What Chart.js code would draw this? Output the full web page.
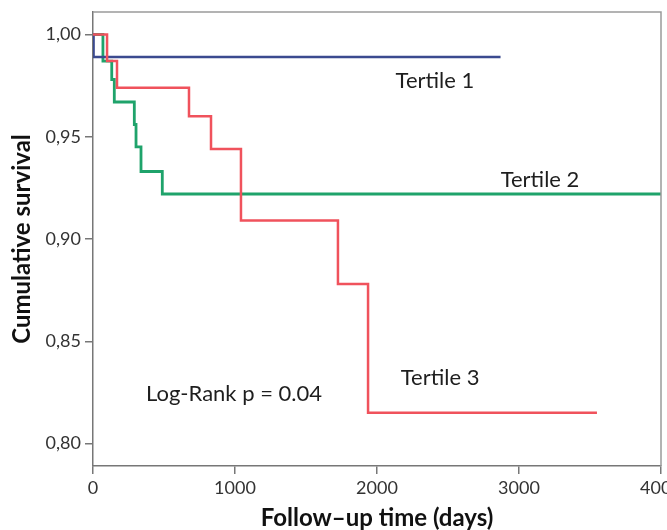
<!DOCTYPE html>
<html>
<head>
<meta charset="utf-8">
<script src="https://cdn.jsdelivr.net/npm/chart.js@4"></script>
<style>
    html, body { margin: 0; padding: 0; background: #fff; overflow: hidden; }
    #wrap { width: 667px; height: 530px; }
</style>
</head>
<body>
<div id="wrap"><canvas id="km" width="667" height="530"></canvas></div>
<script>
// Kaplan-Meier curves by tertile
const xTicks = [0, 1000, 2000, 3000, 4000];
const yTicks = [0.80, 0.85, 0.90, 0.95, 1.00];

const tertile1Days = [0, 4, 2870];
const tertile1Surv = [1.000, 0.989, 0.989];

const tertile2Days = [0, 70, 132, 150, 291, 303, 338, 488, 4000];
const tertile2Surv = [1.000, 0.987, 0.978, 0.967, 0.956, 0.945, 0.933, 0.922, 0.922];

const tertile3Days = [0, 99, 169, 676, 831, 1042, 1725, 1937, 3549];
const tertile3Surv = [1.000, 0.987, 0.974, 0.960, 0.944, 0.909, 0.878, 0.815, 0.815];

const curveLabels = [
    { text: 'Tertile 1', x: 2408, y: 0.9775 },
    { text: 'Tertile 2', x: 3148, y: 0.9291 },
    { text: 'Tertile 3', x: 2444, y: 0.8323 },
    { text: 'Log-Rank p = 0.04', x: 993, y: 0.8244 }
];

const FONT = 'Lato, "Open Sans", sans-serif';

const toPoints = (days, surv) => days.map((d, i) => ({ x: d, y: surv[i] }));

// text annotations + top/right frame
const extrasPlugin = {
    id: 'extras',
    afterDatasetsDraw(chart) {
        const { ctx, chartArea, scales } = chart;
        ctx.save();
        ctx.strokeStyle = '#9a9a9a';
        ctx.lineWidth = 1.5;
        ctx.beginPath();
        ctx.moveTo(chartArea.left, chartArea.top);
        ctx.lineTo(chartArea.right, chartArea.top);
        ctx.lineTo(chartArea.right, chartArea.bottom);
        ctx.stroke();

        ctx.fillStyle = '#1e1e1e';
        ctx.font = '22px ' + FONT;
        ctx.textAlign = 'center';
        ctx.textBaseline = 'middle';
        curveLabels.forEach(l => {
            ctx.fillText(l.text, scales.x.getPixelForValue(l.x), scales.y.getPixelForValue(l.y));
        });
        ctx.restore();
    }
};

new Chart(document.getElementById('km'), {
    type: 'line',
    data: {
        datasets: [
            {
                label: 'Tertile 3',
                data: toPoints(tertile3Days, tertile3Surv),
                borderColor: '#f0525c',
                borderWidth: 2.5,
                order: 0
            },
            {
                label: 'Tertile 1',
                data: toPoints(tertile1Days, tertile1Surv),
                borderColor: '#3b4a8f',
                borderWidth: 2.5,
                order: 1
            },
            {
                label: 'Tertile 2',
                data: toPoints(tertile2Days, tertile2Surv),
                borderColor: '#1fa36b',
                borderWidth: 2.8,
                order: 2
            }
        ]
    },
    options: {
        responsive: false,
        animation: false,
        layout: { padding: { top: 12, right: 6, left: 0, bottom: 0 } },
        elements: { line: { stepped: true }, point: { radius: 0 } },
        plugins: {
            legend: { display: false },
            tooltip: { enabled: false }
        },
        scales: {
            x: {
                type: 'linear',
                min: 0,
                max: 4000,
                afterBuildTicks: s => { s.ticks = xTicks.map(v => ({ value: v })); },
                afterFit: s => { s.height = 64; s.paddingLeft = 0; s.paddingRight = 0; },
                grid: { drawOnChartArea: false, drawTicks: true, tickLength: 8, color: '#777', lineWidth: 1.5 },
                border: { display: true, color: '#777', width: 1.5 },
                ticks: {
                    padding: 3,
                    maxRotation: 0,
                    color: '#333',
                    font: { family: FONT, size: 18 },
                    callback: v => String(v)
                },
                title: {
                    display: true,
                    text: 'Follow\u2013up time (days)',
                    color: '#111',
                    font: { family: FONT, size: 24, weight: 'bold', lineHeight: 1.0 },
                    padding: { top: 0, bottom: 0 }
                }
            },
            y: {
                type: 'linear',
                min: 0.789,
                max: 1.011,
                afterBuildTicks: s => { s.ticks = yTicks.map(v => ({ value: v })); },
                afterFit: s => { s.width = 93; s.paddingTop = 0; s.paddingBottom = 0; },
                grid: { drawOnChartArea: false, drawTicks: true, tickLength: 8, color: '#777', lineWidth: 1.5 },
                border: { display: true, color: '#777', width: 1.5 },
                ticks: {
                    padding: 4,
                    color: '#333',
                    font: { family: FONT, size: 18 },
                    callback: v => v.toFixed(2).replace('.', ',')
                },
                title: {
                    display: true,
                    text: 'Cumulative survival',
                    color: '#111',
                    font: { family: FONT, size: 24, weight: 'bold', lineHeight: 1.0 },
                    padding: { top: 10, bottom: 0 }
                }
            }
        }
    },
    plugins: [extrasPlugin]
});
</script>
</body>
</html>
